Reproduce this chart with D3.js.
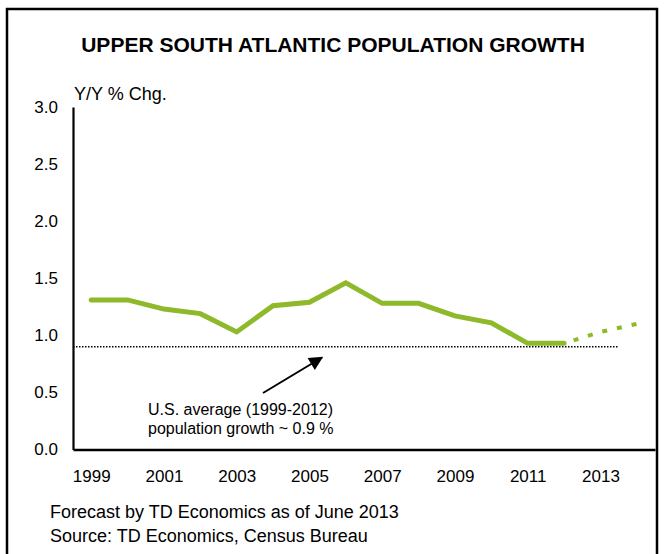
<!DOCTYPE html>
<html>
<head>
<meta charset="utf-8">
<script src="https://cdn.jsdelivr.net/npm/d3@7"></script>
<style>
  html, body { margin: 0; padding: 0; background: #fff; }
  svg { display: block; font-family: Arial, "Liberation Sans", Helvetica, sans-serif; }
</style>
</head>
<body>
<svg id="chart" width="664" height="554"></svg>
<script>
// Upper South Atlantic population, year-over-year % change
const years = [1999, 2000, 2001, 2002, 2003, 2004, 2005, 2006, 2007, 2008, 2009, 2010, 2011, 2012, 2013, 2014];
const actualYears = [1999, 2000, 2001, 2002, 2003, 2004, 2005, 2006, 2007, 2008, 2009, 2010, 2011, 2012];
const actualValues = [1.31, 1.31, 1.23, 1.19, 1.03, 1.26, 1.29, 1.46, 1.28, 1.28, 1.17, 1.11, 0.93, 0.93];
const forecastYears = [2012, 2013, 2014];
const forecastValues = [0.93, 1.03, 1.10];
const usAverage = 0.9;
const yTicks = [0, 0.5, 1.0, 1.5, 2.0, 2.5, 3.0];
const xTickYears = [1999, 2001, 2003, 2005, 2007, 2009, 2011, 2013];

const title = "UPPER SOUTH ATLANTIC POPULATION GROWTH";
const yAxisTitle = "Y/Y % Chg.";
const noteLines = ["U.S. average (1999-2012)", "population growth ~ 0.9 %"];
const footerLines = ["Forecast by TD Economics as of June 2013", "Source: TD Economics, Census Bureau"];

const green = "#8db92b";
const svg = d3.select("#chart");

// outer frame
svg.append("rect")
  .attr("x", 7).attr("y", 9).attr("width", 650).attr("height", 560)
  .attr("fill", "none").attr("stroke", "#000").attr("stroke-width", 2.5);

svg.append("text")
  .attr("x", 333).attr("y", 52).attr("text-anchor", "middle")
  .attr("font-size", 21).attr("font-weight", "bold").attr("fill", "#000")
  .text(title);

const plotLeft = 73, plotRight = 655, plotTop = 107, plotBottom = 449.5;

const x = d3.scalePoint().domain(years).range([plotLeft, plotRight]).padding(0.5);
const y = d3.scaleLinear().domain([0, 3]).range([plotBottom, plotTop]);

// y axis
const yAxis = svg.append("g")
  .attr("transform", `translate(${plotLeft},0)`)
  .call(d3.axisLeft(y).tickValues(yTicks).tickFormat(d3.format(".1f")).tickSize(0).tickPadding(15));
yAxis.select(".domain").attr("stroke", "#000").attr("stroke-width", 2.2);
yAxis.selectAll("text").attr("font-size", 17).attr("fill", "#000")
  .attr("font-family", "Arial, 'Liberation Sans', sans-serif");

// x axis
const xAxis = svg.append("g")
  .attr("transform", `translate(0,${plotBottom})`)
  .call(d3.axisBottom(x).tickValues(xTickYears).tickSize(0).tickPadding(20));
xAxis.select(".domain").attr("stroke", "#000").attr("stroke-width", 2.5);
xAxis.selectAll("text").attr("font-size", 17).attr("fill", "#000")
  .attr("font-family", "Arial, 'Liberation Sans', sans-serif");

svg.append("text")
  .attr("x", 74).attr("y", 100)
  .attr("font-size", 18).attr("fill", "#000")
  .text(yAxisTitle);

// U.S. average reference line
const step = x.step();
svg.append("line")
  .attr("x1", plotLeft).attr("x2", x(2013) + step / 2)
  .attr("y1", y(usAverage)).attr("y2", y(usAverage))
  .attr("stroke", "#000").attr("stroke-width", 1.6)
  .attr("stroke-dasharray", "1.5,1.5");

// actual series
const line = d3.line().x(d => x(d[0])).y(d => y(d[1]));
svg.append("path")
  .datum(d3.zip(actualYears, actualValues))
  .attr("d", line)
  .attr("fill", "none").attr("stroke", green).attr("stroke-width", 5)
  .attr("stroke-linejoin", "miter").attr("stroke-linecap", "round");

// forecast series
svg.append("path")
  .datum(d3.zip(forecastYears, forecastValues))
  .attr("d", line)
  .attr("fill", "none").attr("stroke", green).attr("stroke-width", 4)
  .attr("stroke-dasharray", "5,10").attr("stroke-dashoffset", -10);

// annotation arrow
const defs = svg.append("defs");
defs.append("marker")
  .attr("id", "arrowhead")
  .attr("viewBox", "0 0 10 10").attr("refX", 9).attr("refY", 5)
  .attr("markerWidth", 7.5).attr("markerHeight", 7)
  .attr("markerUnits", "strokeWidth")
  .attr("orient", "auto")
  .append("path").attr("d", "M0,0 L10,5 L0,10 Z").attr("fill", "#000");

svg.append("line")
  .attr("x1", 263).attr("y1", 393)
  .attr("x2", 322).attr("y2", 357.5)
  .attr("stroke", "#000").attr("stroke-width", 2)
  .attr("marker-end", "url(#arrowhead)");

svg.selectAll("text.note")
  .data(noteLines).enter().append("text")
  .attr("class", "note")
  .attr("x", 148).attr("y", (d, i) => 415 + i * 18.5)
  .attr("font-size", 16).attr("fill", "#000")
  .text(d => d);

svg.selectAll("text.footer")
  .data(footerLines).enter().append("text")
  .attr("class", "footer")
  .attr("x", 50).attr("y", (d, i) => 518 + i * 24)
  .attr("font-size", 18).attr("fill", "#000")
  .text(d => d);
</script>
</body>
</html>
